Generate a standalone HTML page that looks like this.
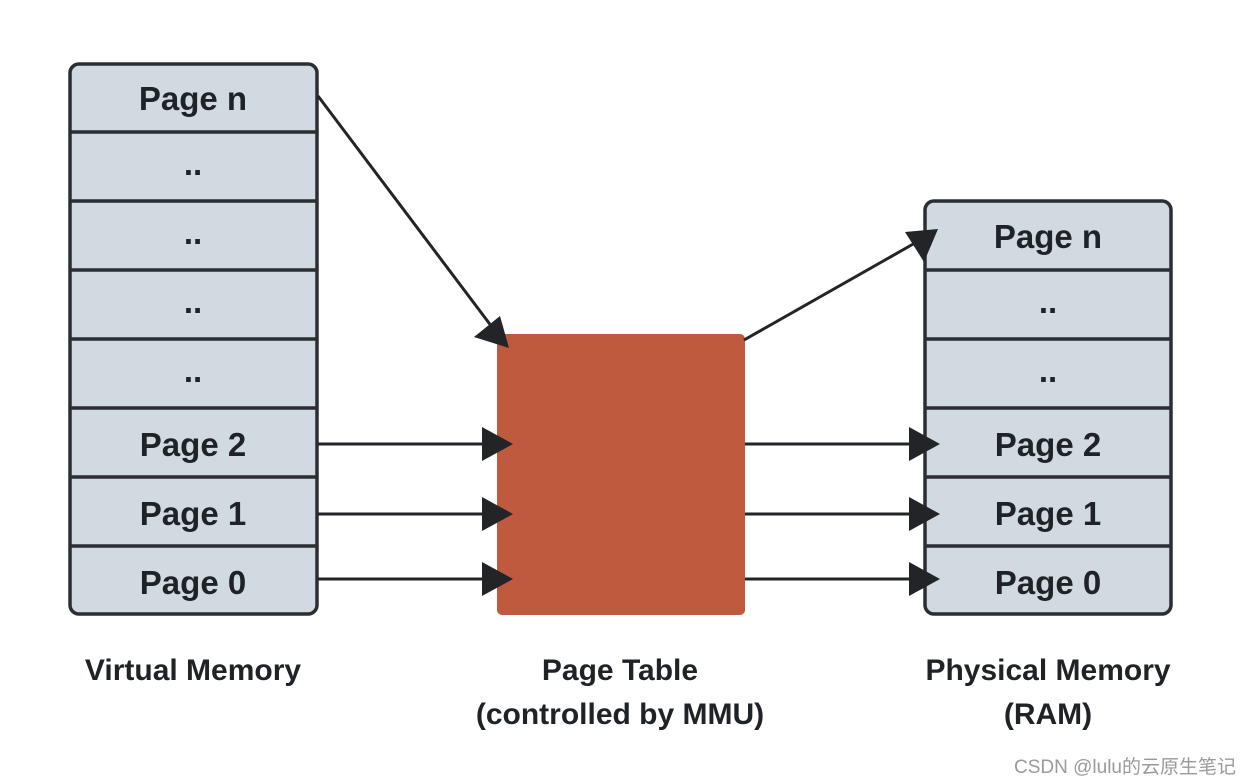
<!DOCTYPE html>
<html><head><meta charset="utf-8"><style>
html,body{margin:0;padding:0;background:#fff;}
svg{display:block;}
text{font-family:"Liberation Sans",sans-serif;font-weight:bold;fill:#1f2226;}
</style></head><body>
<svg width="1252" height="784" viewBox="0 0 1252 784" xmlns="http://www.w3.org/2000/svg">
<!-- left column -->
<rect x="70" y="64" width="247" height="550" rx="9" fill="#d1d9e1" stroke="#2b2e32" stroke-width="3.5"/>
<g stroke="#2b2e32" stroke-width="3.5">
<line x1="70" y1="132" x2="317" y2="132"/>
<line x1="70" y1="201" x2="317" y2="201"/>
<line x1="70" y1="270" x2="317" y2="270"/>
<line x1="70" y1="339" x2="317" y2="339"/>
<line x1="70" y1="408" x2="317" y2="408"/>
<line x1="70" y1="477" x2="317" y2="477"/>
<line x1="70" y1="546" x2="317" y2="546"/>
</g>
<g font-size="33" text-anchor="middle">
<text x="193" y="110">Page n</text>
<text x="193" y="175">..</text>
<text x="193" y="244">..</text>
<text x="193" y="313">..</text>
<text x="193" y="382">..</text>
<text x="193" y="456">Page 2</text>
<text x="193" y="525">Page 1</text>
<text x="193" y="594">Page 0</text>
</g>
<!-- right column -->
<rect x="925" y="201" width="246" height="413" rx="9" fill="#d1d9e1" stroke="#2b2e32" stroke-width="3.5"/>
<g stroke="#2b2e32" stroke-width="3.5">
<line x1="925" y1="270" x2="1171" y2="270"/>
<line x1="925" y1="339" x2="1171" y2="339"/>
<line x1="925" y1="408" x2="1171" y2="408"/>
<line x1="925" y1="477" x2="1171" y2="477"/>
<line x1="925" y1="546" x2="1171" y2="546"/>
</g>
<g font-size="33" text-anchor="middle">
<text x="1048" y="248">Page n</text>
<text x="1048" y="313">..</text>
<text x="1048" y="382">..</text>
<text x="1048" y="456">Page 2</text>
<text x="1048" y="525">Page 1</text>
<text x="1048" y="594">Page 0</text>
</g>
<!-- page table -->
<rect x="497" y="334" width="248" height="281" rx="5" fill="#c05a3e"/>
<!-- arrows -->
<g stroke="#222428" stroke-width="3" fill="none">
<line x1="318" y1="96" x2="492" y2="327"/>
<line x1="318" y1="444" x2="485" y2="444"/>
<line x1="318" y1="514" x2="485" y2="514"/>
<line x1="318" y1="579" x2="485" y2="579"/>
<line x1="744" y1="340" x2="915" y2="243"/>
<line x1="745" y1="444" x2="912" y2="444"/>
<line x1="745" y1="514" x2="912" y2="514"/>
<line x1="745" y1="579" x2="912" y2="579"/>
</g>
<g fill="#222428">
<polygon points="509,348 474,337 500,316"/>
<polygon points="513,444 482,427 482,461"/>
<polygon points="513,514 482,497 482,531"/>
<polygon points="513,579 482,562 482,596"/>
<polygon points="938,229 924,262 905,232"/>
<polygon points="940,444 909,427 909,461"/>
<polygon points="940,514 909,497 909,531"/>
<polygon points="940,579 909,562 909,596"/>
</g>
<!-- labels -->
<g font-size="30" text-anchor="middle">
<text x="193" y="680">Virtual Memory</text>
<text x="620" y="680">Page Table</text>
<text x="620" y="724">(controlled by MMU)</text>
<text x="1048" y="680">Physical Memory</text>
<text x="1048" y="724">(RAM)</text>
</g>
<text x="1236" y="773" font-size="19" text-anchor="end" style="font-weight:normal;fill:#9a9a9a;font-family:'Liberation Sans','Noto Sans CJK SC',sans-serif">CSDN @lulu的云原生笔记</text>
</svg>
</body></html>
